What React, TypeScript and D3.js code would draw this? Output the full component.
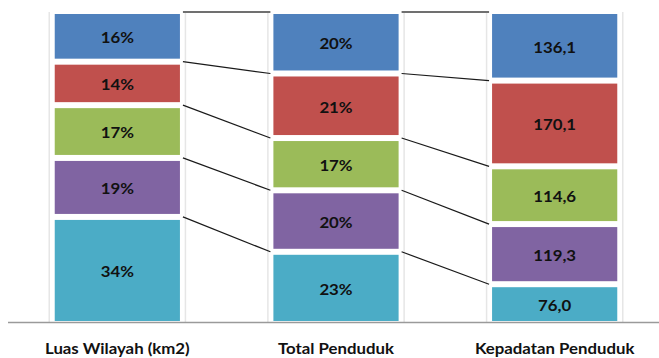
import React from "react";
import * as d3 from "d3";

const categories = ["Luas Wilayah (km2)", "Total Penduduk", "Kepadatan Penduduk"];
const seriesColors = ["#4F81BD", "#C0504D", "#9BBB59", "#8064A2", "#4BACC6"]; // top to bottom
const luasWilayah = [16, 14, 17, 19, 34];
const totalPenduduk = [20, 21, 17, 20, 23];
const kepadatan = [136.1, 170.1, 114.6, 119.3, 76.0];
const labelsLuas = ["16%", "14%", "17%", "19%", "34%"];
const labelsTotal = ["20%", "21%", "17%", "20%", "23%"];
const labelsKepadatan = ["136,1", "170,1", "114,6", "119,3", "76,0"];

const W = 659;
const H = 358;
const FONT = "Lato, 'Open Sans', sans-serif";

export default function App() {
  const columns = [luasWilayah, totalPenduduk, kepadatan];
  const labels = [labelsLuas, labelsTotal, labelsKepadatan];

  const x = d3.scaleBand<string>().domain(categories).range([8, 664]).paddingInner(0.4).paddingOuter(0.2);
  const y = d3.scaleLinear().domain([0, 1]).range([322.5, 12]);
  const bw = x.bandwidth();

  // stacked (normalized) segments; series index 0 at the top
  const stacks = columns.map((vals) => {
    const total = d3.sum(vals);
    const segs: { i: number; y0: number; y1: number }[] = [];
    let cum = 0;
    for (let i = vals.length - 1; i >= 0; i--) {
      const y0 = cum;
      cum += vals[i] / total;
      segs.push({ i, y0, y1: cum });
    }
    return segs.sort((a, b) => a.i - b.i);
  });

  const gap = 3;
  const sx = 1.12;
  const fs = 15;

  return (
    <svg width={W} height={H} style={{ position: "absolute", left: 0, top: 0, background: "#fff" }}>
      {/* faint shadows */}
      {categories.map((c) => {
        const x0 = x(c)!;
        return (
          <g key={"sh" + c}>
            <line x1={x0 - 2.5} x2={x0 - 2.5} y1={y(1)} y2={y(0)} stroke="#e6e6e6" strokeWidth={1.5} />
            <line x1={x0 + bw + 2.5} x2={x0 + bw + 2.5} y1={y(1)} y2={y(0)} stroke="#e6e6e6" strokeWidth={1.5} />
          </g>
        );
      })}
      {/* series lines */}
      {categories.slice(0, -1).map((c, ci) => {
        const xa = x(c)! + bw;
        const xb = x(categories[ci + 1])!;
        const a = stacks[ci];
        const b = stacks[ci + 1];
        return (
          <g key={"sl" + c}>
            <line x1={xa} x2={xb} y1={y(1)} y2={y(1)} stroke="#707070" strokeWidth={1.8} />
            {a.slice(0, -1).map((s, k) => (
              <line key={k} x1={xa} x2={xb} y1={y(s.y0)} y2={y(b[k].y0)} stroke="#1a1a1a" strokeWidth={1.2} />
            ))}
          </g>
        );
      })}
      {/* bars */}
      {categories.map((c, ci) => {
        const x0 = x(c)!;
        return (
          <g key={"b" + c}>
            {stacks[ci].map((s) => {
              const top = y(s.y1) + (s.y1 > 0.9999 ? 2 : gap);
              const bot = y(s.y0) - (s.y0 < 0.0001 ? 1.5 : gap);
              const cy = (top + bot) / 2 + 1.5;
              const cx = x0 + bw / 2;
              return (
                <g key={s.i}>
                  <rect x={x0 + gap} width={bw - 2 * gap} y={top} height={bot - top} fill={seriesColors[s.i]} />
                  <text
                    transform={`translate(${cx},${cy}) scale(${sx},1)`}
                    textAnchor="middle"
                    dy="0.36em"
                    fontFamily={FONT}
                    fontWeight="bold"
                    fontSize={fs}
                    fill="#111"
                  >
                    {labels[ci][s.i]}
                  </text>
                </g>
              );
            })}
          </g>
        );
      })}
      {/* axis */}
      <line x1={8} x2={W} y1={y(0)} y2={y(0)} stroke="#9a9a9a" strokeWidth={1.5} />
      {categories.map((c) => (
        <text
          key={"t" + c}
          transform={`translate(${x(c)! + bw / 2},353.5) scale(${sx},1)`}
          textAnchor="middle"
          fontFamily={FONT}
          fontWeight="bold"
          fontSize={fs}
          fill="#111"
        >
          {c}
        </text>
      ))}
    </svg>
  );
}
